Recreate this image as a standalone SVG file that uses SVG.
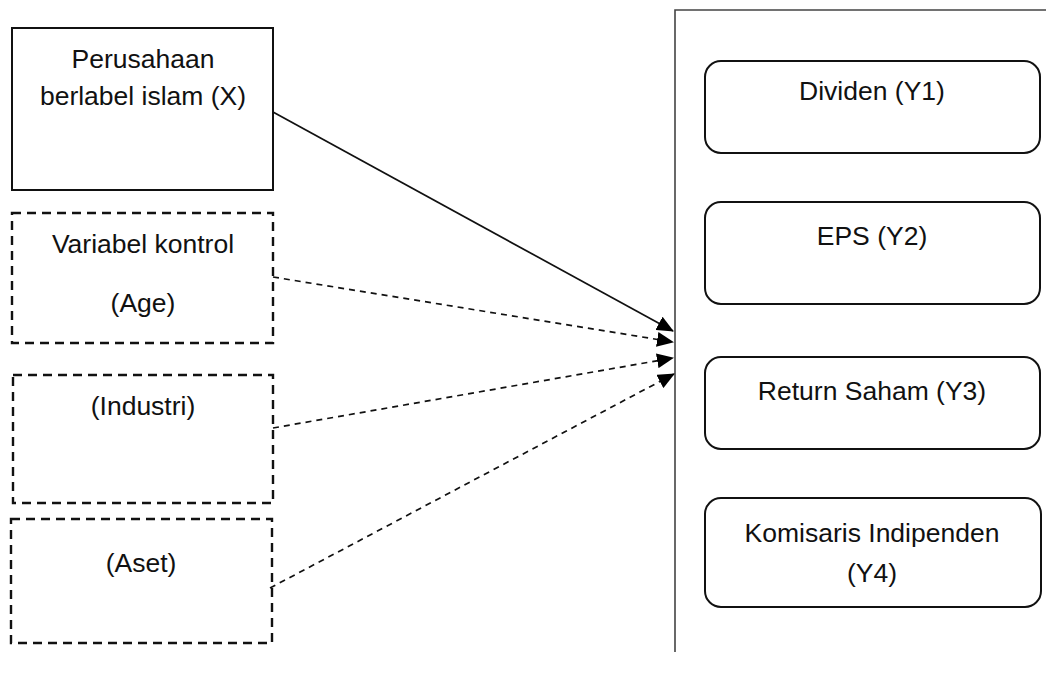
<svg xmlns="http://www.w3.org/2000/svg" width="1046" height="682" viewBox="0 0 1046 682">
<defs>
<style>
.t{font-family:"Liberation Sans",Arial,sans-serif;font-size:26.5px;fill:#111;text-anchor:middle}
.solid{fill:#fff;stroke:#111;stroke-width:2}
.dash{fill:#fff;stroke:#111;stroke-width:2.4;stroke-dasharray:9 6}
.round{fill:#fff;stroke:#111;stroke-width:2}
.con{fill:none;stroke:#111;stroke-width:1.7}
.dcon{stroke-dasharray:6 5}
</style>
<marker id="ah" markerUnits="userSpaceOnUse" markerWidth="17" markerHeight="15" refX="16" refY="7.5" orient="auto">
<path d="M0,0 L17,7.5 L0,15 Z" fill="#000"/>
</marker>
</defs>
<rect width="1046" height="682" fill="#fff"/>
<g id="container">
<path d="M675,652 L675,10 L1046,10" fill="none" stroke="#444" stroke-width="1.6"/>
</g>
<g id="node-x">
<rect class="solid" x="12" y="28" width="261" height="162"/>
<text class="t" x="143" y="68">Perusahaan</text>
<text class="t" x="143" y="105">berlabel islam (X)</text>
</g>
<g id="node-age">
<rect class="dash" x="12" y="213" width="261" height="130"/>
<text class="t" x="143" y="253">Variabel kontrol</text>
<text class="t" x="143" y="312">(Age)</text>
</g>
<g id="node-industri">
<rect class="dash" x="13" y="375" width="260" height="128"/>
<text class="t" x="143" y="415">(Industri)</text>
</g>
<g id="node-aset">
<rect class="dash" x="11" y="519" width="261" height="124"/>
<text class="t" x="141" y="572">(Aset)</text>
</g>
<g id="node-y1">
<rect class="round" x="705" y="61" width="335" height="92" rx="16"/>
<text class="t" x="872" y="100">Dividen (Y1)</text>
</g>
<g id="node-y2">
<rect class="round" x="705" y="202" width="335" height="102" rx="16"/>
<text class="t" x="872" y="245">EPS (Y2)</text>
</g>
<g id="node-y3">
<rect class="round" x="705" y="357" width="335" height="92" rx="16"/>
<text class="t" x="872" y="400">Return Saham (Y3)</text>
</g>
<g id="node-y4">
<rect class="round" x="705" y="498" width="336" height="109" rx="16"/>
<text class="t" x="872" y="542">Komisaris Indipenden</text>
<text class="t" x="872" y="582">(Y4)</text>
</g>
<g id="connectors">
<line class="con" x1="273" y1="112" x2="673" y2="331" marker-end="url(#ah)"/>
<line class="con dcon" x1="273" y1="277" x2="673" y2="342" marker-end="url(#ah)"/>
<line class="con dcon" x1="273" y1="428" x2="673" y2="358" marker-end="url(#ah)"/>
<line class="con dcon" x1="270" y1="588" x2="674" y2="374" marker-end="url(#ah)"/>
</g>
</svg>
